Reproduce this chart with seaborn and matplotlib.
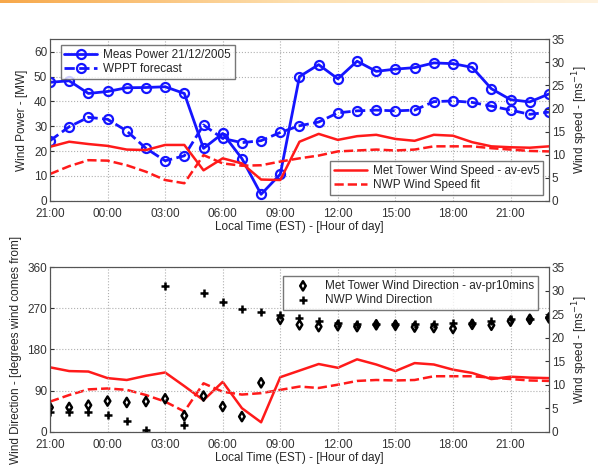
import numpy as np
import pandas as pd
import matplotlib.pyplot as plt
import seaborn as sns

# hourly samples, 21:00 on 20/12 to 23:00 on 21/12
hours = list(range(27))
tick_hours = [0, 3, 6, 9, 12, 15, 18, 21, 24]
tick_labels = ["21:00", "00:00", "03:00", "06:00", "09:00", "12:00", "15:00", "18:00", "21:00"]

meas_power = [47.7, 48.3, 43.2, 44.0, 45.5, 45.6, 45.9, 43.2, 21.1, 27.1, 17.0, 2.6, 10.7,
              50.0, 54.8, 49.1, 56.2, 52.1, 53.0, 53.6, 55.5, 55.2, 53.7, 45.1, 40.7, 39.8, 43.0]
wppt_forecast = [24.2, 29.8, 33.6, 32.8, 28.1, 21.1, 16.1, 18.1, 30.5, 25.1, 23.4, 24.2, 27.5,
                 30.2, 31.7, 35.4, 36.2, 36.5, 36.2, 36.5, 39.9, 40.2, 39.6, 38.1, 36.5, 34.8, 35.7]
met_speed_top = [11.7, 12.8, 12.3, 11.9, 11.1, 11.0, 12.1, 12.1, 6.6, 9.2, 8.1, 4.6, 4.5,
                 12.8, 14.5, 13.2, 14.0, 14.3, 13.4, 13.0, 14.3, 14.1, 12.7, 11.8, 11.6, 11.5, 11.8]
nwp_speed_top = [5.8, 7.5, 8.8, 8.7, 7.7, 6.3, 4.5, 3.8, 9.9, 8.1, 7.6, 7.7, 8.5,
                 9.2, 9.8, 10.7, 10.9, 11.1, 10.9, 11.1, 11.8, 11.8, 11.8, 11.4, 11.1, 10.8, 10.7]

met_speed_bot = [13.7, 12.9, 12.8, 11.4, 11.0, 11.9, 12.6, 9.7, 6.7, 10.6, 5.0, 2.0, 11.6,
                 13.0, 14.4, 13.6, 15.4, 14.3, 12.9, 14.6, 14.3, 13.2, 12.5, 11.2, 11.7, 11.5, 11.4]
nwp_speed_bot = [6.4, 7.8, 9.0, 9.2, 8.9, 7.8, 6.4, 4.3, 10.3, 8.5, 7.9, 8.2, 8.9,
                 9.6, 9.3, 10.0, 10.8, 11.0, 10.9, 11.0, 11.8, 11.8, 11.8, 11.5, 11.2, 10.9, 10.8]
met_direction = [53, 53, 58, 67, 64, 66, 72, 35, 78, 55, 33, 107, 246,
                 234, 230, 232, 230, 234, 233, 229, 228, 226, 235, 233, 242, 246, 249]
nwp_direction = [42, 42, 42, 37, 24, 4, 318, 15, 303, 283, 269, 263, 255,
                 248, 243, 239, 236, 235, 235, 235, 235, 239, 239, 242, 246, 247, 252]

sns.set_style("white")
plt.rcParams["font.family"] = ["Liberation Sans", "DejaVu Sans"]
plt.rcParams["font.size"] = 8.5

fig = plt.figure(figsize=(5.98, 4.68), dpi=100)

# orange strip along the top edge
strip = fig.add_axes([0, 0.993, 1, 0.007])
grad = np.linspace(0, 1, 256)[None, :]
strip.imshow(grad, aspect="auto", cmap=plt.matplotlib.colors.LinearSegmentedColormap.from_list(
    "strip", ["#f7a84a", "#fde0b0", "#fff3e0"]))
strip.axis("off")

legend_kw = dict(frameon=True, fancybox=False, edgecolor="#555555", borderpad=0.3,
                 handlelength=2.8, handletextpad=0.5, labelspacing=0.2, fontsize=8.5)


def style_axes(ax, ax2, yticks, ytop):
    ax.set_xlim(0, 26)
    ax.set_xticks(tick_hours)
    ax.set_xticklabels(tick_labels)
    ax.set_yticks(yticks)
    ax.set_ylim(0, ytop)
    ax2.set_ylim(0, 35)
    ax2.set_yticks(range(0, 36, 5))
    ax.grid(True, linestyle=":", color="#b0b0b0", linewidth=0.8)
    ax.set_xlabel("Local Time (EST) - [Hour of day]", labelpad=1)
    ax2.set_ylabel("Wind speed - [ms$^{-1}$]")
    for a in (ax, ax2):
        a.tick_params(direction="in", length=3, pad=2, colors="#333333")
        for s in a.spines.values():
            s.set_color("#555555")
            s.set_linewidth(0.8)
    ax.tick_params(axis="x", pad=5)


# ---- top panel: power ----
ax = fig.add_axes([0.0836, 0.571, 0.8344, 0.345])
ax2 = ax.twinx()
sns.lineplot(x=hours, y=meas_power, ax=ax, color="#1515ff", linewidth=2, marker="o",
             markersize=6.5, markerfacecolor="none", markeredgecolor="#1515ff", markeredgewidth=1.6,
             label="Meas Power 21/12/2005")
sns.lineplot(x=hours, y=wppt_forecast, ax=ax, color="#1515ff", linewidth=2, linestyle="--",
             marker="o", markersize=6.5, markerfacecolor="none", markeredgecolor="#1515ff",
             markeredgewidth=1.6, label="WPPT forecast")
sns.lineplot(x=hours, y=met_speed_top, ax=ax2, color="#ff1a1a", linewidth=1.8,
             label="Met Tower Wind Speed - av-ev5")
sns.lineplot(x=hours, y=nwp_speed_top, ax=ax2, color="#ff1a1a", linewidth=1.8, linestyle="--",
             label="NWP Wind Speed fit")
style_axes(ax, ax2, list(range(0, 61, 10)), 65)
ax.set_ylabel("Wind Power - [MW]")
ax.legend(loc="upper left", bbox_to_anchor=(0.01, 1.0), **legend_kw)
ax2.legend(loc="lower right", **legend_kw)

# ---- bottom panel: direction ----
bx = fig.add_axes([0.0836, 0.0776, 0.8344, 0.3514])
bx2 = bx.twinx()
sns.scatterplot(x=hours, y=met_direction, ax=bx, marker="d", s=22, facecolor="none",
                edgecolor="black", linewidth=1.8, label="Met Tower Wind Direction - av-pr10mins")
sns.scatterplot(x=hours, y=nwp_direction, ax=bx, marker="+", s=32, color="black",
                linewidth=1.8, label="NWP Wind Direction")
sns.lineplot(x=hours, y=met_speed_bot, ax=bx2, color="#ff1a1a", linewidth=1.8, legend=False)
sns.lineplot(x=hours, y=nwp_speed_bot, ax=bx2, color="#ff1a1a", linewidth=1.8, linestyle="--",
             legend=False)
style_axes(bx, bx2, [0, 90, 180, 270, 360], 360)
bx.set_ylabel("Wind Direction - [degrees wind comes from]")
bx.legend(loc="upper right", bbox_to_anchor=(0.99, 0.98), **legend_kw)
bx.set_zorder(bx2.get_zorder() + 1)
bx.patch.set_visible(False)

plt.savefig("out.png", dpi=100)
plt.close()
